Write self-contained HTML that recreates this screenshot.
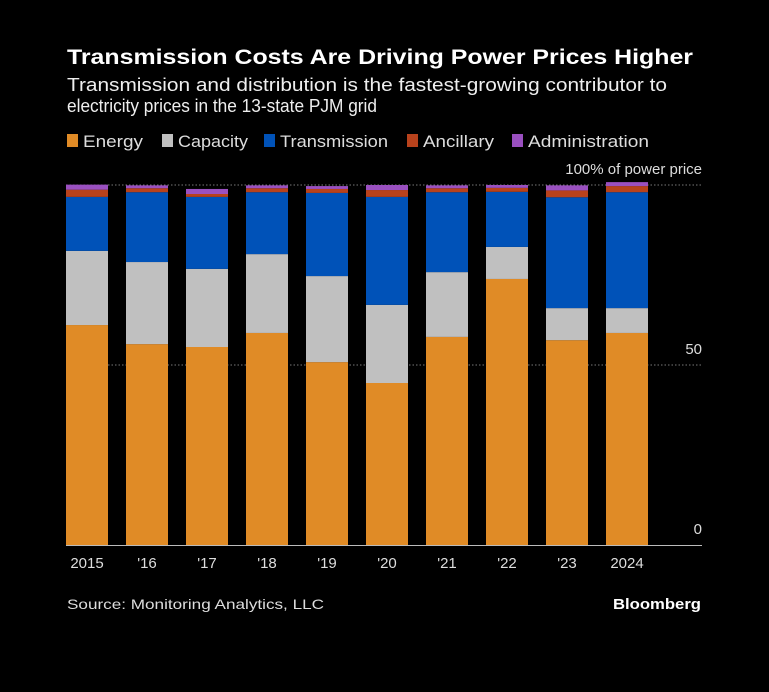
<!DOCTYPE html>
<html><head><meta charset="utf-8"><style>
html,body{margin:0;padding:0;background:#000;}
svg{display:block;font-family:"Liberation Sans",sans-serif;}
</style></head><body>
<svg id="chart" width="769" height="692" viewBox="0 0 769 692">
<rect x="0" y="0" width="769" height="692" fill="#000"/>
<text x="67" y="64" fill="#fff" font-size="21" font-weight="bold" textLength="626" lengthAdjust="spacingAndGlyphs">Transmission Costs Are Driving Power Prices Higher</text>
<text x="67" y="91" fill="#eee" font-size="18" textLength="600" lengthAdjust="spacingAndGlyphs">Transmission and distribution is the fastest-growing contributor to</text>
<text x="67" y="112" fill="#eee" font-size="18" textLength="310" lengthAdjust="spacingAndGlyphs">electricity prices in the 13-state PJM grid</text>
<g id="legend"></g>
<g id="grid"></g>
<g id="bars"></g>
<g id="axis"></g>
<text x="67" y="609" fill="#ddd" font-size="14" textLength="257" lengthAdjust="spacingAndGlyphs">Source: Monitoring Analytics, LLC</text>
<text x="701" y="609" fill="#fff" font-size="15" font-weight="bold" text-anchor="end" textLength="88" lengthAdjust="spacingAndGlyphs">Bloomberg</text>
</svg>
<script>
const categories = ["2015","'16","'17","'18","'19","'20","'21","'22","'23","2024"];
const seriesNames = ["Energy","Capacity","Transmission","Ancillary","Administration"];
const energy = [61.1,55.8,55,58.9,50.8,45,57.8,73.9,56.9,58.9];
const capacity = [20.6,22.8,21.7,21.9,23.9,21.7,18,8.9,8.9,6.9];
const transmission = [15,19.4,20,17.2,23.1,30,22.2,15.3,30.8,32.2];
const ancillary = [2,1.1,0.8,1.1,1.1,1.9,1.1,1.1,1.9,1.7];
const administration = [1.4,0.8,1.4,0.8,0.8,1.4,0.8,0.8,1.4,1.1];
const yTicks = [0,50,100];
const yTickLabels = ["0","50","100% of power price"];
const colors = ["#e08b26","#c0c0c0","#0052b8","#b8421c","#9a50c0"];

const NS="http://www.w3.org/2000/svg";
const y0=545, pxPerUnit=3.6, barX0=66, pitch=60, barW=42;
const yScale=v=>y0-v*pxPerUnit;
const xScale=i=>barX0+i*pitch;
function mk(tag,attrs,parent){const e=document.createElementNS(NS,tag);for(const k in attrs)e.setAttribute(k,attrs[k]);parent.appendChild(e);return e;}

const legend=document.getElementById('legend');
const legX=[67,162,264,407,512];
const legW=[60,70,108,71,121];
seriesNames.forEach((n,i)=>{
  const r=mk('rect',{x:legX[i],y:134,width:11,height:13,fill:colors[i]},legend);
  
  
  const t=mk('text',{x:legX[i]+16,y:147,fill:'#ddd','font-size':17,textLength:legW[i],lengthAdjust:'spacingAndGlyphs'},legend);
  t.textContent=n;
  
  
});

const grid=document.getElementById('grid');
yTicks.forEach((v,i)=>{
  if(v>0){
    const l=mk('line',{x1:66,x2:702,y1:yScale(v),y2:yScale(v),stroke:'#777','stroke-dasharray':'1.5,2'},grid);
    
    
  }
  const t=mk('text',{x:702,y:yScale(v)-11,fill:'#ddd','font-size':15,'text-anchor':'end'},grid);
  t.textContent=yTickLabels[i];
  
  
});

const bars=document.getElementById('bars');
const series=[energy,capacity,transmission,ancillary,administration];
categories.forEach((c,i)=>{
  let base=0;
  series.forEach((s,j)=>{
    const top=base+s[i];
    const r=mk('rect',{x:xScale(i),y:yScale(top),width:barW,height:yScale(base)-yScale(top),fill:colors[j]},bars);
    
    
    base=top;
  });
  const t=mk('text',{x:xScale(i)+barW/2,y:568,fill:'#ddd','font-size':15,'text-anchor':'middle'},bars);
  t.textContent=c;
  
  
});

const axis=document.getElementById('axis');
const ax=mk('line',{x1:66,x2:702,y1:y0+0.5,y2:y0+0.5,stroke:'#bbb','stroke-width':1},axis);


</script>
</body></html>
